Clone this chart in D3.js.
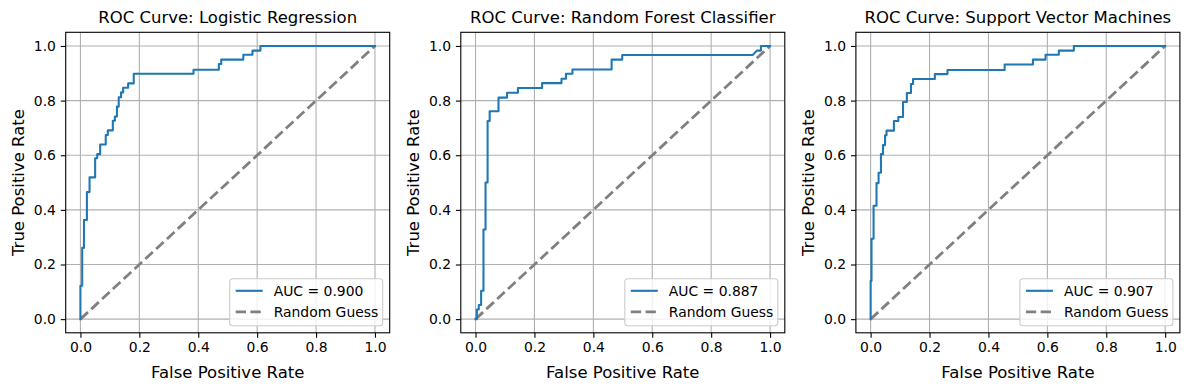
<!DOCTYPE html>
<html><head><meta charset="utf-8">
<script src="https://cdn.jsdelivr.net/npm/d3@7"></script>
<style>body{margin:0;background:#fff}svg text{font-family:"DejaVu Sans",sans-serif}</style>
</head><body><svg id="c" width="1189" height="390"></svg>
<script>
const titles = ["ROC Curve: Logistic Regression","ROC Curve: Random Forest Classifier","ROC Curve: Support Vector Machines"];
const aucLabels = ["AUC = 0.900","AUC = 0.887","AUC = 0.907"];
const ticks = [0,0.2,0.4,0.6,0.8,1.0];
// ROC corner points (fpr, tpr)
const lrFpr = [0,0,0.006,0.006,0.012,0.012,0.022,0.022,0.031,0.031,0.05,0.05,0.057,0.057,0.067,0.067,0.086,0.086,0.093,0.093,0.11,0.11,0.117,0.117,0.124,0.124,0.130,0.130,0.138,0.138,0.145,0.145,0.162,0.162,0.181,0.181,0.384,0.384,0.470,0.470,0.478,0.478,0.553,0.553,0.584,0.584,0.611,0.611,1.0];
const lrTpr = [0,0.122,0.122,0.261,0.261,0.363,0.363,0.465,0.465,0.519,0.519,0.589,0.589,0.604,0.604,0.639,0.639,0.674,0.674,0.691,0.691,0.726,0.726,0.742,0.742,0.778,0.778,0.812,0.812,0.830,0.830,0.847,0.847,0.863,0.863,0.898,0.898,0.913,0.913,0.934,0.934,0.950,0.950,0.968,0.968,0.983,0.983,1.0,1.0];
const rfFpr = [0,0.0045,0.0045,0.011,0.011,0.019,0.019,0.027,0.027,0.034,0.034,0.041,0.041,0.048,0.048,0.078,0.078,0.107,0.107,0.144,0.144,0.226,0.226,0.292,0.292,0.307,0.307,0.329,0.329,0.462,0.462,0.498,0.498,0.941,0.955,0.969,0.969,1.0];
const rfTpr = [0,0,0.035,0.035,0.052,0.052,0.104,0.104,0.328,0.328,0.5,0.5,0.725,0.725,0.761,0.761,0.811,0.811,0.829,0.829,0.846,0.846,0.864,0.864,0.880,0.880,0.898,0.898,0.914,0.914,0.950,0.950,0.967,0.967,0.983,0.983,1.0,1.0];
const svmFpr = [0,0,0.003,0.003,0.010,0.010,0.020,0.020,0.027,0.027,0.035,0.035,0.042,0.042,0.049,0.049,0.054,0.054,0.079,0.079,0.094,0.094,0.110,0.110,0.123,0.123,0.137,0.137,0.144,0.144,0.218,0.218,0.261,0.261,0.455,0.455,0.551,0.551,0.594,0.594,0.639,0.639,0.690,0.690,1.0];
const svmTpr = [0,0.140,0.140,0.294,0.294,0.415,0.415,0.498,0.498,0.536,0.536,0.604,0.604,0.637,0.637,0.673,0.673,0.690,0.690,0.725,0.725,0.740,0.740,0.795,0.795,0.828,0.828,0.861,0.861,0.879,0.879,0.897,0.897,0.912,0.912,0.932,0.932,0.950,0.950,0.968,0.968,0.983,0.983,1.0,1.0];
const series = [[lrFpr,lrTpr],[rfFpr,rfTpr],[svmFpr,svmTpr]];

const svg = d3.select("#c");
const axW = 324, axH = 300.5, axTop = 32.3, lefts = [65.7, 460.8, 855.9];
const dash = "10.3,4.45";
series.forEach((s, i) => {
  const g = svg.append("g").attr("transform", `translate(${lefts[i]},${axTop})`);
  const x = d3.scaleLinear().domain([-0.05, 1.05]).range([0, axW]);
  const y = d3.scaleLinear().domain([-0.05, 1.05]).range([axH, 0]);
  // grid
  g.append("g").selectAll("line").data(ticks).join("line")
    .attr("x1", d => x(d)).attr("x2", d => x(d)).attr("y1", 0).attr("y2", axH)
    .attr("stroke", "#b0b0b0").attr("stroke-width", 1.1);
  g.append("g").selectAll("line").data(ticks).join("line")
    .attr("y1", d => y(d)).attr("y2", d => y(d)).attr("x1", 0).attr("x2", axW)
    .attr("stroke", "#b0b0b0").attr("stroke-width", 1.1);
  // diagonal
  g.append("line").attr("x1", x(0)).attr("y1", y(0)).attr("x2", x(1)).attr("y2", y(1))
    .attr("stroke", "gray").attr("stroke-width", 2.78).attr("stroke-dasharray", dash);
  // roc
  const pts = s[0].map((f, k) => [f, s[1][k]]);
  g.append("path").datum(pts)
    .attr("d", d3.line().x(d => x(d[0])).y(d => y(d[1])))
    .attr("fill", "none").attr("stroke", "#1f77b4").attr("stroke-width", 2.08)
    .attr("stroke-linejoin", "round").attr("stroke-linecap", "square");
  // axes
  const fmt = d3.format(".1f");
  const xa = g.append("g").attr("transform", `translate(0,${axH})`)
    .call(d3.axisBottom(x).tickValues(ticks).tickFormat(fmt).tickSize(4.9).tickPadding(4.9));
  const ya = g.append("g").call(d3.axisLeft(y).tickValues(ticks).tickFormat(fmt).tickSize(4.9).tickPadding(4.9));
  [xa, ya].forEach(a => {
    a.select(".domain").remove();
    a.selectAll("line").attr("stroke", "#000").attr("stroke-width", 1.1);
    a.selectAll("text").attr("font-size", "13.9px").attr("fill", "#000").attr("font-family", "DejaVu Sans");
  });
  g.append("rect").attr("width", axW).attr("height", axH).attr("fill", "none")
    .attr("stroke", "#000").attr("stroke-width", 1.1);
  // titles & labels
  g.append("text").attr("x", axW / 2).attr("y", -9).attr("text-anchor", "middle")
    .attr("font-size", "16.5px").text(titles[i]);
  g.append("text").attr("x", axW / 2).attr("y", axH + 45).attr("text-anchor", "middle")
    .attr("font-size", "16.5px").text("False Positive Rate");
  g.append("text").attr("transform", `translate(-42,${axH / 2}) rotate(-90)`).attr("text-anchor", "middle")
    .attr("font-size", "16.5px").text("True Positive Rate");
  // legend
  const lw = 153, lh = 47;
  const lg = g.append("g").attr("transform", `translate(${axW - lw - 7},${axH - lh - 7})`);
  lg.append("rect").attr("width", lw).attr("height", lh).attr("rx", 3)
    .attr("fill", "#fff").attr("fill-opacity", 0.8).attr("stroke", "#ccc").attr("stroke-width", 1.1);
  lg.append("line").attr("x1", 6).attr("x2", 33).attr("y1", 12).attr("y2", 12)
    .attr("stroke", "#1f77b4").attr("stroke-width", 2.08);
  lg.append("line").attr("x1", 6).attr("x2", 33).attr("y1", 33).attr("y2", 33)
    .attr("stroke", "gray").attr("stroke-width", 2.78).attr("stroke-dasharray", dash);
  lg.append("text").attr("x", 44).attr("y", 17).attr("font-size", "13.9px").text(aucLabels[i]);
  lg.append("text").attr("x", 44).attr("y", 38).attr("font-size", "13.9px").text("Random Guess");
});
</script></body></html>
